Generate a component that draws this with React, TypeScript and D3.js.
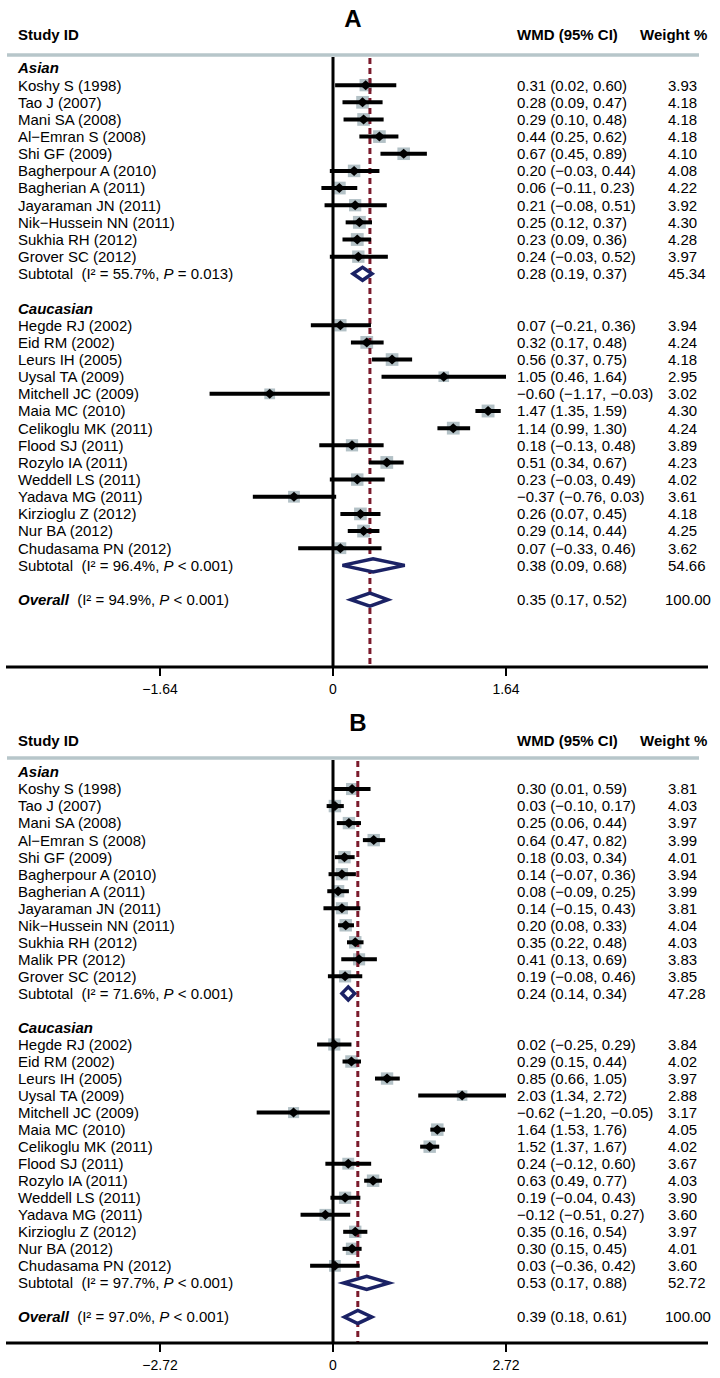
import React from "react";
import * as d3 from "d3";

type Row = [string, number, number, number, number];

// Panel A
const asianA: Row[] = [
  ["Koshy S (1998)", 0.31, 0.02, 0.60, 3.93],
  ["Tao J (2007)", 0.28, 0.09, 0.47, 4.18],
  ["Mani SA (2008)", 0.29, 0.10, 0.48, 4.18],
  ["Al\u2212Emran S (2008)", 0.44, 0.25, 0.62, 4.18],
  ["Shi GF (2009)", 0.67, 0.45, 0.89, 4.10],
  ["Bagherpour A (2010)", 0.20, -0.03, 0.44, 4.08],
  ["Bagherian A (2011)", 0.06, -0.11, 0.23, 4.22],
  ["Jayaraman JN (2011)", 0.21, -0.08, 0.51, 3.92],
  ["Nik\u2212Hussein NN (2011)", 0.25, 0.12, 0.37, 4.30],
  ["Sukhia RH (2012)", 0.23, 0.09, 0.36, 4.28],
  ["Grover SC (2012)", 0.24, -0.03, 0.52, 3.97],
];
const cauA: Row[] = [
  ["Hegde RJ (2002)", 0.07, -0.21, 0.36, 3.94],
  ["Eid RM (2002)", 0.32, 0.17, 0.48, 4.24],
  ["Leurs IH (2005)", 0.56, 0.37, 0.75, 4.18],
  ["Uysal TA (2009)", 1.05, 0.46, 1.64, 2.95],
  ["Mitchell JC (2009)", -0.60, -1.17, -0.03, 3.02],
  ["Maia MC (2010)", 1.47, 1.35, 1.59, 4.30],
  ["Celikoglu MK (2011)", 1.14, 0.99, 1.30, 4.24],
  ["Flood SJ (2011)", 0.18, -0.13, 0.48, 3.89],
  ["Rozylo IA (2011)", 0.51, 0.34, 0.67, 4.23],
  ["Weddell LS (2011)", 0.23, -0.03, 0.49, 4.02],
  ["Yadava MG (2011)", -0.37, -0.76, 0.03, 3.61],
  ["Kirzioglu Z (2012)", 0.26, 0.07, 0.45, 4.18],
  ["Nur BA (2012)", 0.29, 0.14, 0.44, 4.25],
  ["Chudasama PN (2012)", 0.07, -0.33, 0.46, 3.62],
];
// [es, lo, hi, weight]
const subAsianA = [0.28, 0.19, 0.37, 45.34];
const subCauA = [0.38, 0.09, 0.68, 54.66];
const overallA = [0.35, 0.17, 0.52, 100.0];
const hetA = ["55.7%", "= 0.013", "96.4%", "< 0.001", "94.9%", "< 0.001"];
const ticksA = [-1.64, 0, 1.64];

// Panel B
const asianB: Row[] = [
  ["Koshy S (1998)", 0.30, 0.01, 0.59, 3.81],
  ["Tao J (2007)", 0.03, -0.10, 0.17, 4.03],
  ["Mani SA (2008)", 0.25, 0.06, 0.44, 3.97],
  ["Al\u2212Emran S (2008)", 0.64, 0.47, 0.82, 3.99],
  ["Shi GF (2009)", 0.18, 0.03, 0.34, 4.01],
  ["Bagherpour A (2010)", 0.14, -0.07, 0.36, 3.94],
  ["Bagherian A (2011)", 0.08, -0.09, 0.25, 3.99],
  ["Jayaraman JN (2011)", 0.14, -0.15, 0.43, 3.81],
  ["Nik\u2212Hussein NN (2011)", 0.20, 0.08, 0.33, 4.04],
  ["Sukhia RH (2012)", 0.35, 0.22, 0.48, 4.03],
  ["Malik PR (2012)", 0.41, 0.13, 0.69, 3.83],
  ["Grover SC (2012)", 0.19, -0.08, 0.46, 3.85],
];
const cauB: Row[] = [
  ["Hegde RJ (2002)", 0.02, -0.25, 0.29, 3.84],
  ["Eid RM (2002)", 0.29, 0.15, 0.44, 4.02],
  ["Leurs IH (2005)", 0.85, 0.66, 1.05, 3.97],
  ["Uysal TA (2009)", 2.03, 1.34, 2.72, 2.88],
  ["Mitchell JC (2009)", -0.62, -1.20, -0.05, 3.17],
  ["Maia MC (2010)", 1.64, 1.53, 1.76, 4.05],
  ["Celikoglu MK (2011)", 1.52, 1.37, 1.67, 4.02],
  ["Flood SJ (2011)", 0.24, -0.12, 0.60, 3.67],
  ["Rozylo IA (2011)", 0.63, 0.49, 0.77, 4.03],
  ["Weddell LS (2011)", 0.19, -0.04, 0.43, 3.90],
  ["Yadava MG (2011)", -0.12, -0.51, 0.27, 3.60],
  ["Kirzioglu Z (2012)", 0.35, 0.16, 0.54, 3.97],
  ["Nur BA (2012)", 0.30, 0.15, 0.45, 4.01],
  ["Chudasama PN (2012)", 0.03, -0.36, 0.42, 3.60],
];
const subAsianB = [0.24, 0.14, 0.34, 47.28];
const subCauB = [0.53, 0.17, 0.88, 52.72];
const overallB = [0.39, 0.18, 0.61, 100.0];
const hetB = ["71.6%", "< 0.001", "97.7%", "< 0.001", "97.0%", "< 0.001"];
const ticksB = [-2.72, 0, 2.72];

const FONT = "'Liberation Sans', Arial, sans-serif";
const GRAY_SQ = "#b3c1c6";
const NAVY = "#1b2265";
const DRED = "#7b1a2c";
const RULE = "#b7c6ca";

const f2 = d3.format(".2f");
const ciText = (es: number, lo: number, hi: number) => `${f2(es)} (${f2(lo)}, ${f2(hi)})`;

interface PanelProps {
  title: string;
  asian: Row[];
  cau: Row[];
  subAsian: number[];
  subCau: number[];
  overall: number[];
  het: string[];
  ticks: number[];
  titleY: number;
  headerY: number;
  ruleY: number;
  firstY: number;
  step: number;
  axisY: number;
  titleX: number;
}

function Panel(p: PanelProps) {
  const x = d3.scaleLinear().domain([p.ticks[0], p.ticks[2]]).range([160, 506]);
  const nA = p.asian.length;
  const nC = p.cau.length;
  const idxSubA = nA + 1;
  const idxCauHead = nA + 3;
  const idxSubC = idxCauHead + nC + 1;
  const idxOverall = idxSubC + 2;
  const y = d3.scaleLinear().domain([0, 1]).range([p.firstY, p.firstY + p.step]);
  const sq = (w: number) => 6.2 * Math.sqrt(w);
  const studies = [
    ...p.asian.map((r, i) => ({ r, i: i + 1 })),
    ...p.cau.map((r, i) => ({ r, i: idxCauHead + 1 + i })),
  ];
  const diamonds = [
    { v: p.subAsian, i: idxSubA, h: 6.5 },
    { v: p.subCau, i: idxSubC, h: 6.5 },
    { v: p.overall, i: idxOverall, h: 6.5 },
  ];
  const x0 = x(0);
  const xo = x(p.overall[0]);
  const txt = { fontFamily: FONT, fontSize: 15, fill: "#000" } as const;
  const dy = "0.36em";
  const wmdX = 517;
  const wX = 668;
  return (
    <g>
      <text x={p.titleX} y={p.titleY} textAnchor="middle" style={{ ...txt, fontSize: 24, fontWeight: "bold" }}>{p.title}</text>
      <text x={18} y={p.headerY} style={{ ...txt, fontWeight: "bold" }}>Study ID</text>
      <text x={wmdX} y={p.headerY} style={{ ...txt, fontWeight: "bold" }}>WMD (95% CI)</text>
      <text x={640} y={p.headerY} style={{ ...txt, fontWeight: "bold" }}>Weight %</text>
      <line x1={7} x2={699} y1={p.ruleY} y2={p.ruleY} stroke={RULE} strokeWidth={3.5} />

      {/* weight squares */}
      {studies.map(({ r, i }) => (
        <rect key={"s" + i} x={x(r[1]) - sq(r[4]) / 2} y={y(i) - sq(r[4]) / 2} width={sq(r[4])} height={sq(r[4])} fill={GRAY_SQ} />
      ))}
      {/* null line */}
      <line x1={x0} x2={x0} y1={p.ruleY + 2} y2={p.axisY} stroke="#000" strokeWidth={3} />
      {/* overall dashed line */}
      <line x1={xo} x2={xo} y1={p.ruleY + 3} y2={p.axisY} stroke={DRED} strokeWidth={3} strokeDasharray="6,4" />
      {/* CI lines and points */}
      {studies.map(({ r, i }) => (
        <g key={"c" + i}>
          <line x1={x(r[2])} x2={x(r[3])} y1={y(i)} y2={y(i)} stroke="#000" strokeWidth={4} />
          <path d={`M${x(r[1]) - 5.5},${y(i)} L${x(r[1])},${y(i) - 5} L${x(r[1]) + 5.5},${y(i)} L${x(r[1])},${y(i) + 5} Z`} fill="#000" />
        </g>
      ))}
      {/* pooled diamonds */}
      {diamonds.map((d) => (
        <path key={"d" + d.i} d={`M${x(d.v[1])},${y(d.i)} L${x(d.v[0])},${y(d.i) - d.h} L${x(d.v[2])},${y(d.i)} L${x(d.v[0])},${y(d.i) + d.h} Z`} fill="#fff" stroke={NAVY} strokeWidth={3.5} strokeLinejoin="miter" />
      ))}

      {/* labels */}
      <text x={18} y={y(0)} dy={dy} style={{ ...txt, fontWeight: "bold", fontStyle: "italic" }}>Asian</text>
      <text x={18} y={y(idxCauHead)} dy={dy} style={{ ...txt, fontWeight: "bold", fontStyle: "italic" }}>Caucasian</text>
      {studies.map(({ r, i }) => (
        <g key={"t" + i}>
          <text x={18} y={y(i)} dy={dy} style={txt}>{r[0]}</text>
          <text x={wmdX} y={y(i)} dy={dy} style={txt}>{ciText(r[1], r[2], r[3])}</text>
          <text x={wX} y={y(i)} dy={dy} style={txt}>{f2(r[4])}</text>
        </g>
      ))}
      {[
        { v: p.subAsian, i: idxSubA, h: [p.het[0], p.het[1]], lab: "Subtotal" },
        { v: p.subCau, i: idxSubC, h: [p.het[2], p.het[3]], lab: "Subtotal" },
        { v: p.overall, i: idxOverall, h: [p.het[4], p.het[5]], lab: "Overall" },
      ].map((s) => (
        <g key={"st" + s.i}>
          <text x={18} y={y(s.i)} dy={dy} style={txt}>
            {s.lab === "Overall" ? (
              <tspan fontWeight="bold" fontStyle="italic">Overall</tspan>
            ) : (
              <tspan>Subtotal</tspan>
            )}
            <tspan>{"\u00a0\u00a0(I\u00b2 = " + s.h[0] + ", "}</tspan>
            <tspan fontStyle="italic">P</tspan>
            <tspan>{" " + s.h[1] + ")"}</tspan>
          </text>
          <text x={wmdX} y={y(s.i)} dy={dy} style={txt}>{ciText(s.v[0], s.v[1], s.v[2])}</text>
          <text x={wX - (s.v[3] >= 100 ? 3 : 0)} y={y(s.i)} dy={dy} style={txt}>{f2(s.v[3])}</text>
        </g>
      ))}

      {/* x axis */}
      <line x1={6} x2={708} y1={p.axisY} y2={p.axisY} stroke="#000" strokeWidth={3} />
      {p.ticks.map((t) => (
        <g key={"k" + t}>
          <line x1={x(t)} x2={x(t)} y1={p.axisY} y2={p.axisY + 9} stroke="#000" strokeWidth={2} />
          <text x={x(t)} y={p.axisY + 27} textAnchor="middle" style={{ ...txt, fontSize: 14 }}>{t === 0 ? "0" : f2(t)}</text>
        </g>
      ))}
    </g>
  );
}

export default function App() {
  return (
    <svg width={720} height={1378} style={{ position: "absolute", left: 0, top: 0, background: "#fff" }}>
      <rect width={720} height={1378} fill="#fff" />
      <Panel title="A" asian={asianA} cau={cauA} subAsian={subAsianA} subCau={subCauA} overall={overallA} het={hetA} ticks={ticksA}
        titleX={353} titleY={27} headerY={40} ruleY={55} firstY={68} step={17.15} axisY={667} />
      <Panel title="B" asian={asianB} cau={cauB} subAsian={subAsianB} subCau={subCauB} overall={overallB} het={hetB} ticks={ticksB}
        titleX={358} titleY={731} headerY={746} ruleY={758} firstY={772} step={17.03} axisY={1343} />
    </svg>
  );
}
